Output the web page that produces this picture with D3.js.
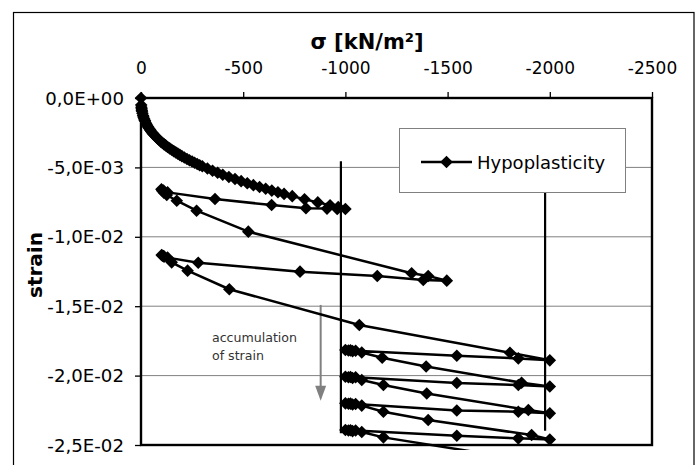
<!DOCTYPE html>
<html>
<head>
<meta charset="utf-8">
<script src="https://cdn.jsdelivr.net/npm/d3@7"></script>
<style>
  html, body { margin: 0; padding: 0; background: #fff; }
  svg { display: block; }
</style>
</head>
<body>
<svg id="chart" width="700" height="465"></svg>
<script>
// ---- data: [stress kN/m², strain] ----
const loading = [
  [0,0],[-1,-0.00050],[-2,-0.00066],[-3,-0.00078],[-4,-0.00088],[-5,-0.00096],[-7,-0.00110],
  [-10,-0.00126],[-12,-0.00136],[-15,-0.00149],[-18,-0.00160],[-20,-0.00166],[-25,-0.00182],
  [-30,-0.00196],[-35,-0.00209],[-40,-0.00220],[-45,-0.00231],[-50,-0.00241],[-55,-0.00250],
  [-60,-0.00259],[-67,-0.00270],[-75,-0.00283],[-82,-0.00293],[-90,-0.00304],[-97,-0.00314],
  [-105,-0.00324],[-112,-0.00332],[-120,-0.00341],[-130,-0.00353],[-140,-0.00363],[-150,-0.00373],
  [-160,-0.00383],[-170,-0.00392],[-180,-0.00401],[-190,-0.00410],[-200,-0.00419],[-212,-0.00429],
  [-225,-0.00439],[-237,-0.00448],[-250,-0.00458],[-262,-0.00466],[-275,-0.00476],[-287,-0.00484],
  [-300,-0.00492],[-325,-0.00508],[-350,-0.00524],
  [-375,-0.00539],[-400,-0.00553],[-430,-0.00569],[-460,-0.00584],[-490,-0.00599],[-520,-0.00614],
  [-550,-0.00628],[-580,-0.00641],[-610,-0.00654],[-640,-0.00667],[-670,-0.00679],[-700,-0.00691],
  [-740,-0.00707],[-800,-0.00729],[-865,-0.00752],[-925,-0.00773],[-965,-0.00786],[-1000,-0.00800]
];
const unload1 = [[-1000,-0.00800],[-960,-0.00799],[-910,-0.00797],[-807,-0.00794],[-639,-0.00771],[-362,-0.00728],[-130,-0.00680],[-110,-0.00666],[-100,-0.00658]];
const reload1 = [[-100,-0.00658],[-104,-0.00668],[-112,-0.00682],[-126,-0.00699],[-175,-0.00740],[-272,-0.00812],[-525,-0.00963],[-1324,-0.01263],[-1405,-0.01282],[-1496,-0.01316]];
const unload2 = [[-1496,-0.01316],[-1381,-0.01311],[-1156,-0.01282],[-778,-0.01251],[-280,-0.01187],[-130,-0.01150],[-110,-0.01138],[-101,-0.01131]];
const reload2 = [[-101,-0.01131],[-105,-0.01137],[-113,-0.01143],[-150,-0.01184],[-228,-0.01244],[-432,-0.01378],[-1068,-0.01635],[-1805,-0.01835],[-2000,-0.01890]];
const cycle1 = [[-2000,-0.01890],[-1846,-0.01876],[-1545,-0.01857],[-1050,-0.01821],[-1025,-0.01818],[-1000,-0.01816],
  [-1015,-0.01819],[-1035,-0.01824],[-1080,-0.01834],[-1180,-0.01871],[-1395,-0.01934],[-1862,-0.02051],[-2000,-0.02079]];
const cycle2 = [[-2000,-0.02079],[-1846,-0.02068],[-1545,-0.02053],[-1050,-0.02012],[-1025,-0.02010],[-1000,-0.02008],
  [-1015,-0.02012],[-1035,-0.02017],[-1080,-0.02032],[-1186,-0.02068],[-1398,-0.02129],[-1895,-0.02248],[-2000,-0.02272]];
const cycle3 = [[-2000,-0.02272],[-1846,-0.02260],[-1545,-0.02251],[-1050,-0.02205],[-1025,-0.02202],[-1000,-0.02200],
  [-1015,-0.02203],[-1035,-0.02208],[-1080,-0.02216],[-1186,-0.02260],[-1405,-0.02320],[-1911,-0.02428],[-2000,-0.02460]];
const cycle4 = [[-2000,-0.02460],[-1846,-0.02452],[-1545,-0.02433],[-1050,-0.02396],[-1025,-0.02394],[-1000,-0.02392],
  [-1015,-0.02395],[-1035,-0.02400],[-1080,-0.02406],[-1186,-0.02445],[-1880,-0.02608],[-2000,-0.02640]];

const xTicks = [0, -500, -1000, -1500, -2000, -2500];
const xTickLabels = ["0", "-500", "-1000", "-1500", "-2000", "-2500"];
const yTicks = [0, -0.005, -0.010, -0.015, -0.020, -0.025];
const yTickLabels = ["0,0E+00", "-5,0E-03", "-1,0E-02", "-1,5E-02", "-2,0E-02", "-2,5E-02"];

// annotation lines (stress, strain from, strain to)
const boundLines = [[-978, -0.00456, -0.02416], [-1977, -0.00456, -0.02397]];
const arrowLine = [-879, -0.01491, -0.02181];
const noteText = ["accumulation", "of strain"];
const notePos = [[-347, -0.01756], [-347, -0.01891]];
const seriesName = "Hypoplasticity";
const xTitle = "σ [kN/m²]";
const yTitle = "strain";

// ---- drawing ----
const series = [].concat(loading, unload1.slice(1), reload1.slice(1), unload2.slice(1), reload2.slice(1),
  cycle1.slice(1), cycle2.slice(1), cycle3.slice(1), cycle4.slice(1));

const svg = d3.select("#chart");
const L = 141, R = 652, T = 98, B = 445;
const x = d3.scaleLinear().domain([0, -2500]).range([L, R]);
const y = d3.scaleLinear().domain([0, -0.025]).range([T, B]);
const font = "DejaVu Sans";

// outer chart border
svg.append("rect").attr("x", 13.5).attr("y", 12.5).attr("width", 680.5).attr("height", 480)
  .attr("fill", "#fff").attr("stroke", "#000").attr("stroke-width", 1.2);

// gridlines
svg.append("g").selectAll("line").data(yTicks.slice(1, -1)).join("line")
  .attr("x1", L).attr("x2", R).attr("y1", d => y(d)).attr("y2", d => y(d))
  .attr("stroke", "#808080").attr("stroke-width", 1);

// axes
const xAxis = svg.append("g").attr("transform", `translate(0,${T})`)
  .call(d3.axisTop(x).tickValues(xTicks).tickSizeInner(6).tickSizeOuter(0)
    .tickFormat((d, i) => xTickLabels[i]));
xAxis.select(".domain").remove();
xAxis.selectAll(".tick line").attr("stroke", "#000").attr("stroke-width", 1.3);
xAxis.selectAll(".tick text").attr("font-family", font).attr("font-size", 17)
  .attr("fill", "#000").attr("y", -24).attr("dy", 0);

const ys = 1.07;
const yAxis = svg.append("g").attr("transform", `translate(${L},0)`)
  .call(d3.axisLeft(y).tickValues(yTicks).tickSizeInner(6).tickSizeOuter(0)
    .tickFormat((d, i) => yTickLabels[i]));
yAxis.select(".domain").remove();
yAxis.selectAll(".tick line").attr("stroke", "#000").attr("stroke-width", 1.3);
yAxis.selectAll(".tick text").attr("font-family", font).attr("font-size", 17)
  .attr("fill", "#000").attr("x", -17 / ys).attr("dy", 6).attr("transform", `scale(${ys},1)`);

// plot area border
svg.append("rect").attr("x", L).attr("y", T).attr("width", R - L).attr("height", B - T)
  .attr("fill", "none").attr("stroke", "#000").attr("stroke-width", 2.4);

// titles
svg.append("text").attr("x", 367).attr("y", 49).attr("text-anchor", "middle")
  .attr("font-family", font).attr("font-size", 21).attr("font-weight", "bold").text(xTitle);
svg.append("text").attr("transform", "translate(42,265) rotate(-90)").attr("text-anchor", "middle")
  .attr("font-family", font).attr("font-size", 20).attr("font-weight", "bold").text(yTitle);

// clip
svg.append("clipPath").attr("id", "clip").append("rect")
  .attr("x", 0).attr("y", 0).attr("width", 700).attr("height", 450);

// boundary lines
svg.append("g").selectAll("line").data(boundLines).join("line")
  .attr("x1", d => x(d[0])).attr("x2", d => x(d[0]))
  .attr("y1", d => y(d[1])).attr("y2", d => y(d[2]))
  .attr("stroke", "#000").attr("stroke-width", 2.2);

// arrow
const ax = x(arrowLine[0]), ay1 = y(arrowLine[1]), ay2 = y(arrowLine[2]);
svg.append("line").attr("x1", ax).attr("x2", ax).attr("y1", ay1).attr("y2", ay2 - 12)
  .attr("stroke", "#808080").attr("stroke-width", 2);
svg.append("path").attr("d", `M${ax},${ay2}L${ax - 5.5},${ay2 - 15}L${ax + 5.5},${ay2 - 15}Z`)
  .attr("fill", "#808080");
svg.append("g").selectAll("text").data(noteText).join("text")
  .attr("x", (d, i) => x(notePos[i][0])).attr("y", (d, i) => y(notePos[i][1]))
  .attr("font-family", font).attr("font-size", 12.6).attr("fill", "#333").text(d => d);

// series
const diamond = "M0,-6.3L6.3,0L0,6.3L-6.3,0Z";
const g = svg.append("g").attr("clip-path", "url(#clip)");
g.append("path").datum(series)
  .attr("d", d3.line().x(d => x(d[0])).y(d => y(d[1])))
  .attr("fill", "none").attr("stroke", "#000").attr("stroke-width", 2.5).attr("stroke-linejoin", "round");
g.selectAll("path.m").data(series).join("path").attr("class", "m")
  .attr("d", diamond).attr("transform", d => `translate(${x(d[0])},${y(d[1])})`).attr("fill", "#000");

// legend
const lg = svg.append("g");
lg.append("rect").attr("x", 399.5).attr("y", 128.5).attr("width", 226).attr("height", 64)
  .attr("fill", "#fff").attr("stroke", "#808080").attr("stroke-width", 1);
lg.append("line").attr("x1", 421).attr("x2", 472).attr("y1", 162).attr("y2", 162)
  .attr("stroke", "#000").attr("stroke-width", 2.5);
lg.append("path").attr("d", diamond).attr("transform", "translate(446.5,162)").attr("fill", "#000");
lg.append("text").attr("x", 477).attr("y", 168.5).attr("font-family", font).attr("font-size", 18)
  .attr("fill", "#000").text(seriesName);
</script>
</body>
</html>
